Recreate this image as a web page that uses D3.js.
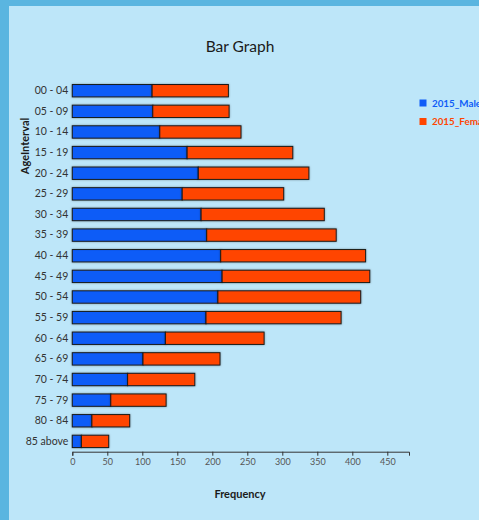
<!DOCTYPE html>
<html><head><meta charset="utf-8">
<script src="https://cdn.jsdelivr.net/npm/d3@7"></script>
<style>
html,body{margin:0;padding:0;background:#5ab5e0;overflow:hidden;}
svg{display:block;font-family:Lato,"Noto Sans",sans-serif;}
</style></head><body>
<svg id="c" width="479" height="520"></svg>
<script>
const categories = ["00 - 04","05 - 09","10 - 14","15 - 19","20 - 24","25 - 29","30 - 34","35 - 39","40 - 44","45 - 49","50 - 54","55 - 59","60 - 64","65 - 69","70 - 74","75 - 79","80 - 84","85 above"];
const male2015 = [114, 115, 125, 164, 180, 157, 184, 192, 212, 214, 208, 191, 133, 101, 79, 55, 28, 13];
const female2015 = [109, 109, 116, 151, 158, 145, 176, 185, 207, 211, 204, 193, 141, 110, 96, 79, 54, 39];
const seriesNames = ["2015_Male","2015_Female"];
const seriesColors = ["#0f5cf7","#ff4500"];
const xTicks = [0,50,100,150,200,250,300,350,400,450];

const FONT = "Lato,'Noto Sans',sans-serif";
const svg = d3.select("#c");
svg.append("rect").attr("x",9).attr("y",6).attr("width",480).attr("height",520).attr("fill","#bde6f9");

const defs = svg.append("defs");
const f = defs.append("filter").attr("id","sh").attr("x","-10%").attr("y","-30%").attr("width","120%").attr("height","160%");
f.append("feGaussianBlur").attr("in","SourceAlpha").attr("stdDeviation",0.8).attr("result","b");
f.append("feFlood").attr("flood-color","#000").attr("flood-opacity",0.35);
f.append("feComposite").attr("in2","b").attr("operator","in").attr("result","s");
const m = f.append("feMerge"); m.append("feMergeNode").attr("in","s"); m.append("feMergeNode").attr("in","SourceGraphic");

const x = d3.scaleLinear().domain([0,481]).range([72.3,409]);
const y = d3.scaleBand().domain(categories).range([80.4,451.7]).paddingInner(0.4).paddingOuter(0.2);

const stackData = categories.map((c,i)=>({cat:c, m:male2015[i], f:female2015[i]}));
const stack = d3.stack().keys(["m","f"])(stackData);

const g = svg.append("g");
stack.forEach((layer,li)=>{
  g.selectAll(null).data(layer).join("rect")
    .attr("x",d=>x(d[0]))
    .attr("y",d=>y(d.data.cat))
    .attr("width",d=>x(d[1])-x(d[0]))
    .attr("height",y.bandwidth())
    .attr("fill",seriesColors[li])
    .attr("stroke","#1a1a1a").attr("stroke-width",1)
    .attr("filter","url(#sh)");
});

// y axis
const ya = svg.append("g").attr("transform",`translate(${x(0)},0)`)
  .call(d3.axisLeft(y).tickSize(0).tickPadding(4));
ya.select(".domain").remove();
ya.selectAll("text").attr("font-size",10.5).attr("fill","#333").attr("font-family",FONT);

// x axis
const xa = svg.append("g").attr("transform",`translate(0,451.7)`)
  .call(d3.axisBottom(x).tickValues(xTicks).tickSize(4).tickSizeOuter(4).tickPadding(3));
xa.select(".domain").attr("stroke","#333");
xa.selectAll(".tick line").attr("stroke","#333");
xa.selectAll("text").attr("font-size",9).attr("fill","#555").attr("font-family",FONT);

// titles
svg.append("text").attr("x",240).attr("y",52).attr("text-anchor","middle")
  .attr("font-size",15.5).attr("fill","#1a1a1a").text("Bar Graph");
svg.append("text").attr("x",240).attr("y",498).attr("text-anchor","middle")
  .attr("font-size",11).attr("font-weight","bold").attr("fill","#1a1a1a").text("Frequency");
svg.append("text").attr("transform","translate(29,146) rotate(-90)").attr("text-anchor","middle")
  .attr("font-size",11).attr("font-weight","bold").attr("fill","#1a1a1a").text("AgeInterval");

// legend
const lg = svg.append("g");
seriesNames.forEach((n,i)=>{
  const yy = 103 + i*18.5;
  lg.append("rect").attr("x",419.5).attr("y",yy-3.5).attr("width",7).attr("height",7).attr("fill",seriesColors[i]);
  lg.append("text").attr("x",432).attr("y",yy+3.5).attr("font-size",9.8).attr("font-weight","bold")
    .attr("fill",seriesColors[i]).text(n);
});
</script>
</body></html>
